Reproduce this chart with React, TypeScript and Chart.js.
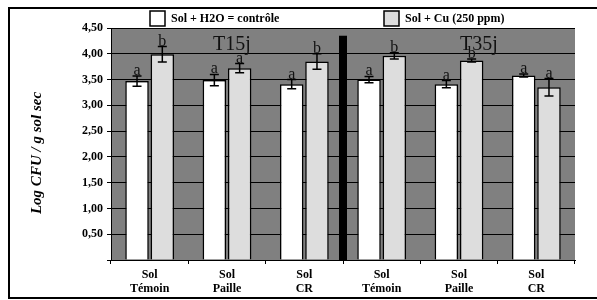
import React, { useEffect, useRef } from "react";
import { Chart, registerables } from "chart.js";

Chart.register(...registerables);

const categories: string[][] = [
  ["Sol", "Témoin"],
  ["Sol", "Paille"],
  ["Sol", "CR"],
  ["Sol", "Témoin"],
  ["Sol", "Paille"],
  ["Sol", "CR"],
];
const seriesNames = ["Sol + H2O = contrôle", "Sol + Cu (250 ppm)"];
const controlValues = [3.47, 3.49, 3.41, 3.5, 3.41, 3.58];
const copperValues = [3.99, 3.72, 3.85, 3.96, 3.87, 3.35];
const controlErrors = [0.1, 0.11, 0.09, 0.06, 0.07, 0.03];
const copperErrors = [0.15, 0.09, 0.15, 0.06, 0.03, 0.17];
const controlLetters = ["a", "a", "a", "a", "a", "a"];
const copperLetters = ["b", "a", "b", "b", "b", "a"];
const periodLabels = ["T15j", "T35j"];
const separatorTop = 4.35;
const yTicksMin = 0;
const yTicksMax = 4.5;
const yTicksStep = 0.5;

const SERIF = '"Liberation Serif", "Times New Roman", serif';

export default function App() {
  const ref = useRef<HTMLCanvasElement | null>(null);

  useEffect(() => {
    const canvas = ref.current;
    if (!canvas) return;

    const bgPlugin = {
      id: "bgPlugin",
      beforeDraw(chart: any) {
        const { ctx, chartArea } = chart;
        ctx.save();
        ctx.fillStyle = "#ffffff";
        ctx.fillRect(0, 0, chart.width, chart.height);
        ctx.fillStyle = "#808080";
        ctx.fillRect(
          chartArea.left,
          chartArea.top,
          chartArea.right - chartArea.left,
          chartArea.bottom - chartArea.top
        );
        ctx.restore();
      },
    };

    const overlayPlugin = {
      id: "overlayPlugin",
      afterDatasetsDraw(chart: any) {
        const { ctx } = chart;
        const yScale = chart.scales.y;
        const xScale = chart.scales.x;
        const errs = [controlErrors, copperErrors];
        const vals = [controlValues, copperValues];
        const letters = [controlLetters, copperLetters];
        ctx.save();
        // separator bar
        const sepX =
          (xScale.getPixelForValue(2) + xScale.getPixelForValue(3)) / 2;
        const sepTop = yScale.getPixelForValue(separatorTop);
        ctx.fillStyle = "#000";
        ctx.fillRect(sepX - 4, sepTop, 8, yScale.getPixelForValue(0) - sepTop);

        for (let d = 0; d < 2; d++) {
          const meta = chart.getDatasetMeta(d);
          meta.data.forEach((bar: any, i: number) => {
            const v = vals[d][i];
            const e = errs[d][i];
            const yt = yScale.getPixelForValue(v + e);
            const yb = yScale.getPixelForValue(v - e);
            const x = bar.x;
            ctx.strokeStyle = "#000";
            ctx.lineWidth = 1.5;
            ctx.beginPath();
            ctx.moveTo(x, yt);
            ctx.lineTo(x, yb);
            ctx.moveTo(x - 4.5, yt);
            ctx.lineTo(x + 4.5, yt);
            ctx.moveTo(x - 4.5, yb);
            ctx.lineTo(x + 4.5, yb);
            ctx.stroke();
            ctx.fillStyle = "#111";
            ctx.font = `16px ${SERIF}`;
            ctx.textAlign = "center";
            ctx.textBaseline = "alphabetic";
            ctx.fillText(letters[d][i], x, yt - 1);
          });
        }

        // period labels
        ctx.fillStyle = "#111";
        ctx.font = `20px ${SERIF}`;
        ctx.textAlign = "center";
        ctx.textBaseline = "alphabetic";
        ctx.fillText(periodLabels[0], xScale.getPixelForValue(1) + 5, 50);
        ctx.fillText(periodLabels[1], xScale.getPixelForValue(4) + 20, 50);
        ctx.restore();
      },
      afterDraw(chart: any) {
        const { ctx } = chart;
        ctx.save();
        // outer frame
        ctx.strokeStyle = "#000";
        ctx.lineWidth = 2;
        ctx.beginPath();
        ctx.moveTo(chart.width + 5, 8);
        ctx.lineTo(9, 8);
        ctx.lineTo(9, 298);
        ctx.lineTo(chart.width + 5, 298);
        ctx.stroke();

        // legend
        const items = [
          { x: 150, fill: "#ffffff", label: seriesNames[0] },
          { x: 384, fill: "#dddddd", label: seriesNames[1] },
        ];
        ctx.font = `bold 12px ${SERIF}`;
        ctx.textAlign = "left";
        ctx.textBaseline = "middle";
        items.forEach((it) => {
          ctx.fillStyle = it.fill;
          ctx.fillRect(it.x, 11, 15, 15);
          ctx.strokeStyle = "#000";
          ctx.lineWidth = 1.5;
          ctx.strokeRect(it.x, 11, 15, 15);
          ctx.fillStyle = "#000";
          ctx.fillText(it.label, it.x + 21, 19);
        });

        // y title
        ctx.translate(37, 153);
        ctx.rotate(-Math.PI / 2);
        ctx.font = `italic bold 15px ${SERIF}`;
        ctx.textAlign = "center";
        ctx.textBaseline = "middle";
        ctx.fillStyle = "#000";
        ctx.fillText("Log CFU / g sol sec", 0, 0);
        ctx.restore();
      },
    };

    const chart = new Chart(canvas, {
      type: "bar",
      data: {
        labels: categories,
        datasets: [
          {
            label: seriesNames[0],
            data: controlValues,
            backgroundColor: "#ffffff",
            borderColor: "#000000",
            borderWidth: 1.5,
            categoryPercentage: 0.654,
            barPercentage: 0.93,
          },
          {
            label: seriesNames[1],
            data: copperValues,
            backgroundColor: "#dddddd",
            borderColor: "#000000",
            borderWidth: 1.5,
            categoryPercentage: 0.654,
            barPercentage: 0.93,
          },
        ],
      },
      options: {
        responsive: false,
        animation: false,
        devicePixelRatio: 1,
        layout: { padding: { top: 28, right: 22, left: 0, bottom: 0 } },
        plugins: {
          legend: { display: false },
          tooltip: { enabled: false },
          title: { display: false },
        },
        scales: {
          x: {
            afterFit(scale: any) {
              scale.height = 40;
            },
            grid: {
              drawOnChartArea: false,
              drawTicks: true,
              tickLength: 4,
              color: "#000",
              offset: true,
            },
            border: { display: true, color: "#000", width: 1 },
            ticks: {
              color: "#000",
              font: { family: SERIF, size: 12, weight: "bold", lineHeight: 1.15 },
              padding: 4,
              maxRotation: 0,
              autoSkip: false,
            },
          },
          y: {
            min: yTicksMin,
            max: yTicksMax,
            afterFit(scale: any) {
              scale.width = 111;
            },
            grid: {
              color: "#000",
              lineWidth: 1,
              drawTicks: true,
              tickLength: 4,
            },
            border: { display: true, color: "#000", width: 1 },
            ticks: {
              stepSize: yTicksStep,
              color: "#000",
              padding: 4,
              font: { family: SERIF, size: 12, weight: "bold" },
              callback: (v: any) =>
                Number(v) === 0 ? "" : Number(v).toFixed(2).replace(".", ","),
            },
          },
        },
      },
      plugins: [bgPlugin, overlayPlugin],
    } as any);

    return () => chart.destroy();
  }, []);

  return (
    <div style={{ position: "fixed", left: 0, top: 0, width: 597, height: 300 }}>
      <canvas ref={ref} width={597} height={300} style={{ display: "block" }} />
    </div>
  );
}
